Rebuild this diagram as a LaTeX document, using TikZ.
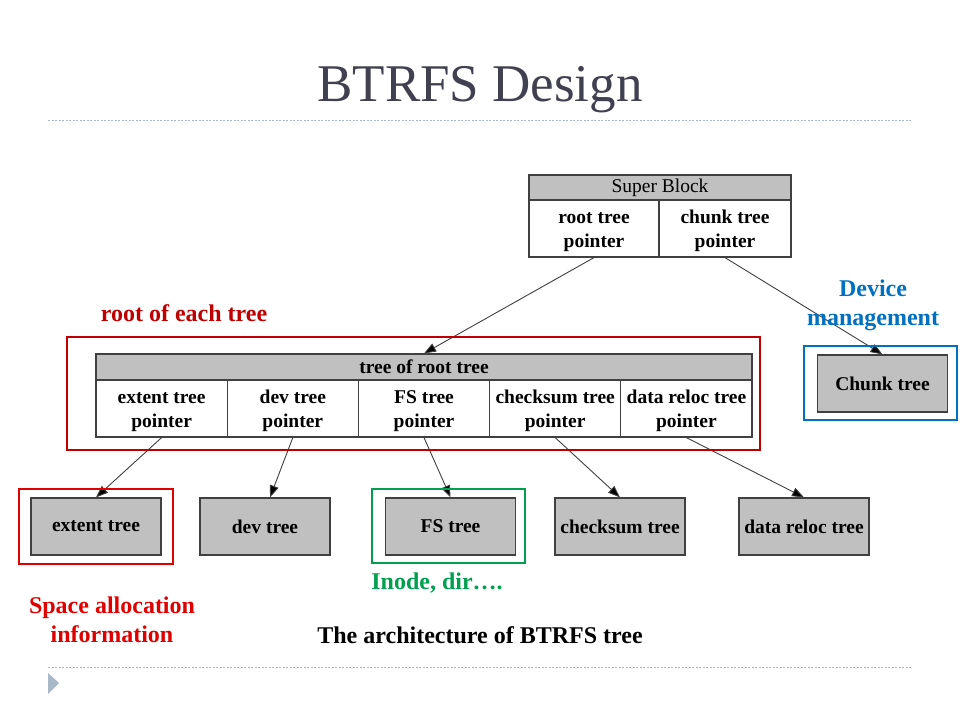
\documentclass[tikz,border=0pt]{standalone}
\usepackage{fontspec}
\setmainfont{Liberation Serif}
\usetikzlibrary{arrows.meta}
\definecolor{boxgray}{HTML}{C0C0C0}
\definecolor{edgegray}{HTML}{404040}
\definecolor{titlegray}{HTML}{404050}
\definecolor{rulecol}{HTML}{A8B8C8}
\definecolor{darkred}{HTML}{C00000}
\definecolor{brightred}{HTML}{E00000}
\definecolor{hlgreen}{HTML}{00A050}
\definecolor{hlblue}{HTML}{0070C0}
\begin{document}
\begin{tikzpicture}[x=1pt,y=-1pt,
  cell/.style={draw=edgegray, line width=1.2pt, minimum height=57pt, inner sep=0pt, align=center, font=\fontsize{19.5}{24}\selectfont\bfseries, text height=43pt},
  hdr/.style={draw=edgegray, line width=1.2pt, fill=boxgray, minimum height=25pt, inner sep=0pt, font=\fontsize{19.5}{22}\selectfont},
  leaf/.style={draw=edgegray, line width=1.2pt, fill=boxgray, minimum width=130pt, minimum height=57pt, inner sep=0pt, font=\fontsize{19.5}{22}\selectfont\bfseries},
  link/.style={draw=edgegray, line width=0.9pt, -{Triangle[length=12pt,width=9pt,fill=black]}},
  hlbox/.style={line width=2.6pt, fill=none},
  note/.style={font=\fontsize{24}{29}\selectfont\bfseries, align=center},
  rulel/.style={draw=rulecol, line width=0.8pt, dash pattern=on 2pt off 1.5pt}
]
\useasboundingbox (0,0) rectangle (960,720);
% title and rules
\node[font=\fontsize{53}{60}\selectfont, text=titlegray] (title) at (480,90) {BTRFS Design};
\coordinate (r1a) at (48,120); \coordinate (r1b) at (912,120);
\draw[rulel] (r1a) -- (r1b);
\coordinate (r2a) at (48,667); \coordinate (r2b) at (912,667);
\draw[rulel] (r2a) -- (r2b);
\fill[rulecol] (48,673) -- (59,683) -- (48,694) -- cycle;

% super block
\node[hdr, minimum width=262pt] (sb) at (660,187.5) {Super Block};
\node[cell, minimum width=130pt] (rootp) at (594,228.5) {root tree\\pointer};
\node[cell, minimum width=132pt] (chunkp) at (725,228.5) {chunk tree\\pointer};

% tree of root tree
\node[hdr, minimum width=656pt, minimum height=26pt, font=\fontsize{19.5}{22}\selectfont\bfseries] (trt) at (424,367) {tree of root tree};
\node[cell, minimum width=131.2pt] (extp) at (161.6,408.5) {extent tree\\pointer};
\node[cell, minimum width=131.2pt] (devp) at (292.8,408.5) {dev tree\\pointer};
\node[cell, minimum width=131.2pt] (fsp) at (424,408.5) {FS tree\\pointer};
\node[cell, minimum width=131.2pt] (csp) at (555.2,408.5) {checksum tree\\pointer};
\node[cell, minimum width=131.2pt] (drp) at (686.4,408.5) {data reloc tree\\pointer};

% leaves
\node[leaf] (ext) at (96,526.5) {extent tree};
\node[leaf] (dev) at (265,526.5) {dev tree};
\node[leaf] (fs) at (450.5,526.5) {FS tree};
\node[leaf] (cs) at (620,526.5) {checksum tree};
\node[leaf] (dr) at (804,526.5) {data reloc tree};
\node[leaf] (chunk) at (882.5,383.5) {Chunk tree};

% connectors
\draw[link] (rootp.south) -- (trt.north);
\draw[link] (chunkp.south) -- (chunk.north);
\draw[link] (extp.south) -- (ext.north);
\draw[link] (devp.south) -- ([xshift=5pt]dev.north);
\draw[link] (fsp.south) -- (fs.north);
\draw[link] (csp.south) -- (cs.north);
\draw[link] (drp.south) -- (dr.north);

% highlight boxes
\draw[hlbox, draw=darkred] (67,337) rectangle (760,450);
\draw[hlbox, draw=brightred] (19,489) rectangle (173,564);
\draw[hlbox, draw=hlgreen] (372,489) rectangle (525,563);
\draw[hlbox, draw=hlblue] (804,346) rectangle (957,420);

% notes
\node[note, text=darkred] (n1) at (184,313) {root of each tree};
\node[note, text=hlblue] (n2) at (873,305) {Device\\management};
\node[note, text=hlgreen] (n3) at (437,583) {Inode, dir….};
\node[note, text=brightred] (n4) at (112,620) {Space allocation\\information};
\node[note, text=black] (n5) at (480,635) {The architecture of BTRFS tree};
\end{tikzpicture}
\end{document}
